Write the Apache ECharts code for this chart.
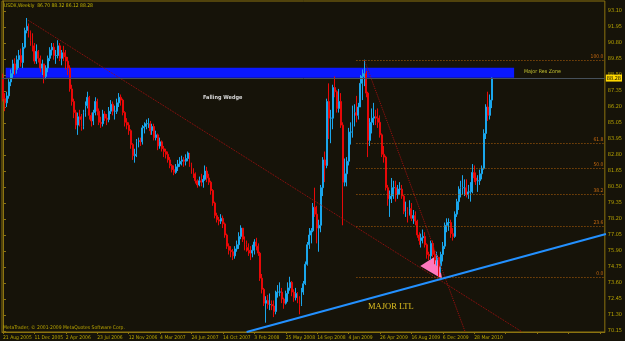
<!DOCTYPE html>
<html><head><meta charset="utf-8">
<script src="https://cdn.jsdelivr.net/npm/echarts@6/dist/echarts.min.js"></script>
<style>html,body{margin:0;padding:0;background:#161309;}#c{width:625px;height:341px;}</style>
</head><body><div id="c"></div>
<script>
// ---- DATA ----
const firstOpen = 88.2;
const closes = [
86.8,86.5,87.0,88.0,88.6,89.3,88.9,89.6,89.9,89.4,90.5,91.7,92.0,91.6,91.0,90.6,89.5,90.2,89.7,89.0,
89.3,88.4,89.0,89.7,90.3,90.5,89.9,89.9,90.6,89.7,90.1,89.8,89.5,89.0,87.5,86.6,85.8,84.9,85.5,85.3,
84.8,85.8,86.3,86.9,85.6,85.2,85.8,86.6,85.9,85.1,85.0,85.7,85.4,85.3,85.9,86.4,85.9,85.9,86.5,86.9,
86.7,85.8,85.1,84.9,84.5,83.5,82.7,82.8,83.7,83.8,83.7,84.7,84.8,85.0,85.0,84.5,84.8,84.0,84.2,83.4,
83.7,83.2,83.0,82.8,82.4,82.0,81.7,81.5,81.9,82.1,82.3,82.4,82.3,82.5,82.9,82.1,81.6,81.4,80.9,80.6,
80.9,80.8,81.0,81.6,81.1,80.8,80.2,79.3,78.4,78.1,78.0,78.2,77.8,77.0,76.2,75.9,75.8,75.5,76.0,76.3,
76.9,77.5,76.7,76.3,76.1,75.9,75.7,75.9,76.5,76.2,75.7,73.9,73.1,72.1,72.3,72.0,72.0,71.9,71.5,72.9,
72.9,72.9,72.4,72.1,72.8,73.2,73.6,72.9,72.5,72.8,72.4,72.0,72.9,73.5,74.9,76.3,77.0,77.3,79.0,78.5,
77.5,77.7,80.4,82.4,82.0,86.6,85.4,85.4,87.6,87.3,86.1,86.6,84.9,80.8,81.4,82.3,84.4,84.4,85.7,85.8,
85.6,86.2,87.9,88.4,88.6,87.2,83.8,85.1,85.4,85.5,85.4,85.1,84.2,82.8,82.6,80.4,79.6,79.8,80.4,80.4,
79.9,80.3,80.3,79.8,78.7,78.8,78.5,78.9,78.2,78.4,78.0,77.0,76.6,76.8,76.9,76.3,75.6,75.5,76.4,75.6,
75.2,75.4,74.8,75.6,76.2,77.7,77.9,77.9,77.1,76.9,78.5,79.4,80.3,80.4,80.4,80.4,79.9,80.1,80.1,81.5,
81.1,80.9,80.9,81.4,81.8,84.3,86.2,85.6,86.7,88.28];
const highs = [
88.6,87.2,87.3,88.2,88.9,89.6,89.7,89.9,90.3,90.4,90.8,91.9,92.6,92.2,91.7,91.5,90.8,90.7,90.3,89.9,
89.6,89.3,89.2,89.9,90.5,90.8,90.8,90.3,91.0,90.8,90.3,90.6,90.3,89.8,89.2,87.8,86.8,86.0,85.8,86.0,
85.7,86.0,86.6,87.3,87.0,85.8,86.0,86.9,86.8,86.1,85.5,86.0,85.9,85.7,86.2,86.7,86.6,86.3,86.8,87.2,
87.1,86.8,85.9,85.4,85.1,84.6,83.6,83.2,83.9,84.0,84.0,84.9,85.1,85.3,85.4,85.2,85.0,85.0,84.5,84.3,
84.0,83.8,83.4,83.2,83.0,82.6,82.1,82.0,82.1,82.4,82.6,82.7,82.6,82.8,83.0,82.9,82.2,81.8,81.5,81.0,
81.2,81.4,81.3,82.0,81.9,81.4,80.9,80.3,79.4,78.6,78.3,78.5,78.4,77.9,77.1,76.4,76.2,76.0,76.2,76.6,
77.2,77.7,77.5,76.9,76.6,76.4,76.2,76.3,76.7,76.8,76.4,75.8,74.2,73.2,72.6,72.7,72.8,72.3,72.3,73.0,
73.4,73.6,73.2,72.5,73.0,73.6,74.0,73.7,73.1,73.2,72.9,72.6,73.2,73.7,75.1,76.5,77.5,77.5,79.3,80.4,
79.1,78.1,80.6,82.6,83.0,86.8,87.9,86.0,87.8,88.4,87.4,87.5,87.2,85.1,82.5,82.6,84.7,85.1,86.3,86.4,
87.0,86.5,88.5,88.9,89.6,88.8,87.3,85.4,86.1,86.5,86.0,86.1,85.6,84.3,83.4,82.7,80.6,80.2,81.1,80.9,
80.9,80.6,80.8,80.6,79.9,79.4,79.0,79.5,79.3,78.8,78.7,78.1,77.2,77.1,77.4,77.2,76.4,75.8,76.6,76.6,
75.9,75.8,75.4,75.8,76.5,77.9,78.2,78.2,78.1,77.5,78.7,79.6,80.5,80.9,81.3,81.0,81.0,80.6,80.8,82.1,
82.0,81.5,81.3,81.7,82.0,84.6,86.4,87.3,87.1,88.32];
const lows = [
86.6,85.9,86.2,86.8,87.7,88.3,88.5,88.6,89.0,89.1,89.0,90.4,91.5,91.2,90.6,90.2,89.3,89.3,89.4,88.7,
88.5,87.9,88.2,88.7,89.5,89.9,89.6,89.3,89.7,89.5,89.2,89.5,88.9,88.5,87.3,86.3,85.4,84.6,84.2,84.8,
84.5,84.6,85.5,86.1,85.3,84.8,84.9,85.6,85.6,84.9,84.7,84.8,85.2,84.9,85.1,85.7,85.6,85.3,85.7,86.2,
86.3,85.6,84.8,84.6,84.2,83.2,82.4,82.2,82.6,83.3,83.4,83.5,84.3,84.6,84.7,84.2,84.2,83.8,83.8,83.1,
83.2,83.0,82.6,82.5,82.2,81.8,81.5,81.3,81.4,81.6,81.9,82.0,81.9,82.0,82.3,81.9,81.4,81.1,80.7,80.4,
80.5,80.5,80.4,80.9,80.8,80.6,79.9,79.1,78.2,77.9,77.7,77.8,77.5,76.8,76.0,75.6,75.4,75.2,75.3,75.8,
76.0,76.7,76.5,75.9,75.8,75.5,75.2,75.4,75.6,75.9,75.5,73.7,72.8,71.9,70.7,71.7,71.6,71.6,71.1,71.3,
72.5,72.6,72.1,71.7,72.0,72.2,73.0,72.6,72.2,72.3,72.1,71.3,71.9,72.7,73.4,74.8,76.0,76.4,77.2,78.3,
76.4,75.8,77.2,79.8,80.8,81.8,83.9,83.6,84.6,86.9,85.8,85.8,84.7,77.7,80.5,80.5,82.0,83.5,84.0,84.8,
85.1,85.3,86.2,86.7,87.7,86.9,82.6,83.4,84.3,84.9,84.9,84.7,84.0,82.6,82.2,80.2,79.1,78.3,79.3,79.6,
79.4,79.6,79.9,79.6,78.5,78.3,77.9,78.4,78.0,77.8,77.7,76.8,76.3,76.1,76.4,76.1,75.3,75.2,75.2,75.4,
74.9,74.8,74.0,74.3,75.1,76.0,77.2,77.3,76.8,76.6,76.8,78.3,78.8,79.7,79.9,79.8,79.7,79.6,79.4,80.0,
80.8,80.6,80.1,80.6,81.0,81.7,83.9,85.2,85.3,86.12];
const tickLabels = ['21 Aug 2005','11 Dec 2005','2 Apr 2006','23 Jul 2006','12 Nov 2006','4 Mar 2007',
  '24 Jun 2007','14 Oct 2007','3 Feb 2008','25 May 2008','14 Sep 2008','4 Jan 2009','26 Apr 2009',
  '16 Aug 2009','6 Dec 2009','28 Mar 2010'];
const priceTicks = [93.10,91.95,90.80,89.65,88.50,87.35,86.20,85.05,83.90,82.75,81.60,80.45,79.30,78.15,77.00,75.85,74.70,73.55,72.40,71.25,70.10];
const priceTickText = ['93.10','91.95','90.80','89.65','88.50','87.35','86.20','85.05','83.95','82.80','81.65','80.50','79.35','78.20','77.05','75.90','74.75','73.60','72.45','71.30','70.15'];
const fibLevels = [100, 61.8, 50, 38.2, 23.6, 0];
const fibHigh = 89.56, fibLow = 73.98;
const lastPrice = 88.28;
// drawn objects (week index, price)
const wedgeLine = [[12.7, 92.45], [264.4, 70.03]];
const steepLine = [[184.0, 89.58], [235.4, 70.03]];
const ltlLine = [[124.06, 70.03], [307.07, 77.07]];
const resZone = {x0: 1.38, x1: 260.3, p0: 88.30, p1: 89.02};
const triX = [212.5, 221.2, 223.7];
const triP = [74.77, 75.56, 73.84];
const fibStart = 180.0, fibEnd = 306.3;
const nSlots = 307;

// ---- BUILD ----
const cats = [];
for (let i = 0; i < nSlots; i++) cats.push(i);
const ohlc = closes.map((c, i) => [i === 0 ? firstOpen : closes[i - 1], c, lows[i], highs[i]]);

const smallFont = '"Liberation Sans Narrow","DejaVu Sans Condensed","Liberation Sans",sans-serif';
const gold = '#8c7410';
const chart = echarts.init(document.getElementById('c'), null, {renderer: 'canvas'});
const fibMark = fibLevels.map(l => {
  const p = fibLow + (fibHigh - fibLow) * l / 100;
  return [{coord: [fibStart, p], label: {formatter: l.toFixed(1)}}, {coord: [fibEnd, p]}];
});

chart.setOption({
  animation: false,
  backgroundColor: '#161309',
  grid: {left: 2, right: 19, top: 1, bottom: 9, show: true, borderColor: gold, borderWidth: 1, backgroundColor: '#161309'},
  xAxis: [{
    type: 'category', data: cats, boundaryGap: true,
    axisLine: {lineStyle: {color: gold}},
    axisTick: {show: true, alignWithLabel: true, length: 2, interval: (i) => i % 16 === 0, lineStyle: {color: gold}},
    axisLabel: {interval: (i) => i % 16 === 0 && i / 16 < tickLabels.length, showMinLabel: true, hideOverlap: false,
      formatter: (v, i) => tickLabels[i / 16] || '', color: '#b8a400', fontSize: 5, fontFamily: smallFont,
      align: 'left', margin: 3},
    splitLine: {show: false}
  }, {
    type: 'value', min: -0.5, max: nSlots - 0.5, show: false
  }],
  yAxis: {
    type: 'value', position: 'right', min: 70.03, max: 93.82, scale: true,
    axisLine: {show: true, lineStyle: {color: gold}},
    axisTick: {show: true, length: 3, customValues: priceTicks, lineStyle: {color: gold}},
    axisLabel: {customValues: priceTicks, formatter: (v) => priceTickText[priceTicks.indexOf(v)] || v.toFixed(2),
      color: '#b8a400', fontSize: 5.5, fontFamily: smallFont, margin: 3},
    splitLine: {show: false}
  },
  series: [
    {
      type: 'custom', xAxisIndex: 1, data: [0], z: 1, silent: true,
      renderItem: (params, api) => {
        const a = api.coord([resZone.x0, resZone.p1]);
        const b = api.coord([resZone.x1, resZone.p0]);
        return {type: 'rect', shape: {x: a[0], y: a[1], width: b[0] - a[0], height: b[1] - a[1]}, style: {fill: '#0a18ff'}};
      }
    },
    {
      type: 'custom', xAxisIndex: 1, data: [0], z: 1, silent: true,
      renderItem: (params, api) => ({
        type: 'polygon', shape: {points: triX.map((x, i) => api.coord([x, triP[i]]))}, style: {fill: '#ff78be'}
      })
    },
    {
      type: 'candlestick', data: ohlc, barWidth: 1.4, z: 3,
      itemStyle: {color: '#1aa6ec', color0: '#e80808', borderColor: '#1aa6ec', borderColor0: '#e80808', borderWidth: 1}
    },
    {
      type: 'line', xAxisIndex: 1, data: wedgeLine, showSymbol: false, z: 4, silent: true,
      lineStyle: {color: '#a01010', width: 1, type: [1, 1]}
    },
    {
      type: 'line', xAxisIndex: 1, data: steepLine, showSymbol: false, z: 4, silent: true,
      lineStyle: {color: '#a01010', width: 1, type: [1, 1]}
    },
    {
      type: 'line', xAxisIndex: 1, data: ltlLine, showSymbol: false, z: 5, silent: true,
      lineStyle: {color: '#2390ff', width: 2},
      markLine: {
        silent: true, symbol: 'none', animation: false,
        data: fibMark,
        lineStyle: {color: '#b4620a', type: [1, 2], width: 1},
        label: {show: true, position: 'insideEndTop', color: '#c86a10', fontSize: 5, fontFamily: smallFont, distance: [1, 1]}
      }
    },
    {
      type: 'line', xAxisIndex: 1, data: [], z: 2, silent: true,
      markLine: {
        silent: true, symbol: 'none', animation: false,
        data: [{yAxis: lastPrice}],
        lineStyle: {color: '#46505a', type: 'solid', width: 1},
        label: {show: true, position: 'end', formatter: lastPrice.toFixed(2), color: '#000', backgroundColor: '#ffd800',
          fontSize: 5.5, fontFamily: smallFont, padding: [1, 1, 0, 1], distance: 1}
      }
    }
  ],
  graphic: [
    {type: 'text', left: 4, top: 3, z: 10, style: {text: 'USDX,Weekly  86.70 88.32 86.12 88.28', fill: '#c8b800', font: '5px ' + smallFont}},
    {type: 'text', left: 3, top: 325, z: 10, style: {text: 'MetaTrader, © 2001-2009 MetaQuotes Software Corp.', fill: '#b8a400', font: '5px ' + smallFont}},
    {type: 'text', left: 203, top: 95, z: 10, style: {text: 'Falling Wedge', fill: '#d8d8d8', font: 'bold 5.5px ' + smallFont}},
    {type: 'text', left: 524, top: 69, z: 10, style: {text: 'Major Res Zone', fill: '#c0c030', font: '5.3px ' + smallFont}},
    {type: 'text', left: 368, top: 302, z: 10, style: {text: 'MAJOR LTL', fill: '#e0c020', font: '8.5px "Liberation Serif", serif'}}
  ]
});
</script></body></html>
